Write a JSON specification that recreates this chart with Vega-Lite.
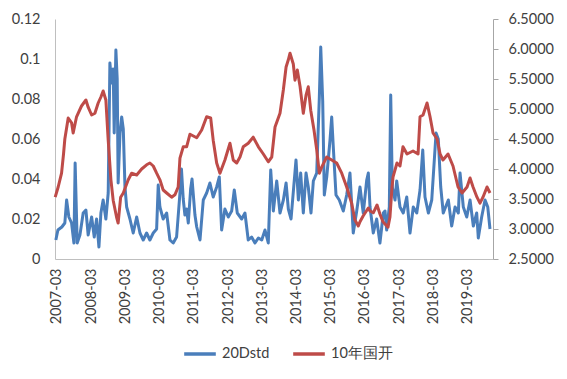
{
  "$schema": "https://vega.github.io/schema/vega-lite/v6.json",
  "width": 438,
  "height": 240,
  "autosize": "none",
  "padding": {"left": 55, "top": 19, "right": 74, "bottom": 120},
  "background": "white",
  "config": {
    "font": "Lato",
    "view": {"stroke": null},
    "axis": {"grid": false, "labelFont": "Lato", "labelFontSize": 14.5, "labelColor": "#404040", "domainColor": "#A6A6A6", "tickColor": "#A6A6A6", "title": null},
    "legend": {"labelFont": "Lato", "labelFontSize": 14.5, "labelColor": "#404040"}
  },
  "data": {"values": [
    {"date":"2007-02-17","series":"20Dstd","value":0.0095},
    {"date":"2007-03-11","series":"20Dstd","value":0.0145},
    {"date":"2007-04-22","series":"20Dstd","value":0.016},
    {"date":"2007-05-24","series":"20Dstd","value":0.018},
    {"date":"2007-06-12","series":"20Dstd","value":0.0295},
    {"date":"2007-07-06","series":"20Dstd","value":0.021},
    {"date":"2007-08-04","series":"20Dstd","value":0.018},
    {"date":"2007-08-29","series":"20Dstd","value":0.008},
    {"date":"2007-09-11","series":"20Dstd","value":0.048},
    {"date":"2007-10-03","series":"20Dstd","value":0.008},
    {"date":"2007-11-01","series":"20Dstd","value":0.012},
    {"date":"2007-12-06","series":"20Dstd","value":0.023},
    {"date":"2008-01-04","series":"20Dstd","value":0.0245},
    {"date":"2008-01-28","series":"20Dstd","value":0.012},
    {"date":"2008-03-05","series":"20Dstd","value":0.021},
    {"date":"2008-04-02","series":"20Dstd","value":0.011},
    {"date":"2008-04-27","series":"20Dstd","value":0.020},
    {"date":"2008-05-22","series":"20Dstd","value":0.006},
    {"date":"2008-06-12","series":"20Dstd","value":0.023},
    {"date":"2008-07-06","series":"20Dstd","value":0.0295},
    {"date":"2008-08-04","series":"20Dstd","value":0.020},
    {"date":"2008-08-29","series":"20Dstd","value":0.033},
    {"date":"2008-09-16","series":"20Dstd","value":0.098},
    {"date":"2008-10-04","series":"20Dstd","value":0.088},
    {"date":"2008-10-21","series":"20Dstd","value":0.095},
    {"date":"2008-11-01","series":"20Dstd","value":0.063},
    {"date":"2008-11-19","series":"20Dstd","value":0.1045},
    {"date":"2008-12-03","series":"20Dstd","value":0.090},
    {"date":"2008-12-13","series":"20Dstd","value":0.038},
    {"date":"2009-01-02","series":"20Dstd","value":0.063},
    {"date":"2009-01-20","series":"20Dstd","value":0.071},
    {"date":"2009-02-06","series":"20Dstd","value":0.065},
    {"date":"2009-02-24","series":"20Dstd","value":0.036},
    {"date":"2009-03-14","series":"20Dstd","value":0.026},
    {"date":"2009-04-18","series":"20Dstd","value":0.020},
    {"date":"2009-05-23","series":"20Dstd","value":0.013},
    {"date":"2009-06-29","series":"20Dstd","value":0.021},
    {"date":"2009-08-03","series":"20Dstd","value":0.013},
    {"date":"2009-09-07","series":"20Dstd","value":0.0095},
    {"date":"2009-10-13","series":"20Dstd","value":0.013},
    {"date":"2009-11-17","series":"20Dstd","value":0.0095},
    {"date":"2009-12-23","series":"20Dstd","value":0.013},
    {"date":"2010-01-28","series":"20Dstd","value":0.015},
    {"date":"2010-02-14","series":"20Dstd","value":0.037},
    {"date":"2010-03-04","series":"20Dstd","value":0.026},
    {"date":"2010-04-08","series":"20Dstd","value":0.020},
    {"date":"2010-05-15","series":"20Dstd","value":0.023},
    {"date":"2010-06-19","series":"20Dstd","value":0.0095},
    {"date":"2010-07-24","series":"20Dstd","value":0.008},
    {"date":"2010-08-29","series":"20Dstd","value":0.011},
    {"date":"2010-10-04","series":"20Dstd","value":0.033},
    {"date":"2010-10-20","series":"20Dstd","value":0.045},
    {"date":"2010-11-08","series":"20Dstd","value":0.030},
    {"date":"2010-11-26","series":"20Dstd","value":0.022},
    {"date":"2010-12-14","series":"20Dstd","value":0.025},
    {"date":"2011-01-01","series":"20Dstd","value":0.018},
    {"date":"2011-01-26","series":"20Dstd","value":0.035},
    {"date":"2011-02-10","series":"20Dstd","value":0.040},
    {"date":"2011-03-13","series":"20Dstd","value":0.022},
    {"date":"2011-04-01","series":"20Dstd","value":0.016},
    {"date":"2011-05-06","series":"20Dstd","value":0.0095},
    {"date":"2011-06-10","series":"20Dstd","value":0.0295},
    {"date":"2011-07-16","series":"20Dstd","value":0.033},
    {"date":"2011-08-20","series":"20Dstd","value":0.038},
    {"date":"2011-09-24","series":"20Dstd","value":0.031},
    {"date":"2011-10-31","series":"20Dstd","value":0.036},
    {"date":"2011-11-28","series":"20Dstd","value":0.041},
    {"date":"2011-12-23","series":"20Dstd","value":0.0145},
    {"date":"2012-01-27","series":"20Dstd","value":0.025},
    {"date":"2012-03-03","series":"20Dstd","value":0.021},
    {"date":"2012-04-08","series":"20Dstd","value":0.024},
    {"date":"2012-05-06","series":"20Dstd","value":0.0345},
    {"date":"2012-06-07","series":"20Dstd","value":0.023},
    {"date":"2012-07-24","series":"20Dstd","value":0.020},
    {"date":"2012-08-28","series":"20Dstd","value":0.023},
    {"date":"2012-10-02","series":"20Dstd","value":0.0095},
    {"date":"2012-11-07","series":"20Dstd","value":0.011},
    {"date":"2012-12-13","series":"20Dstd","value":0.008},
    {"date":"2013-01-18","series":"20Dstd","value":0.0105},
    {"date":"2013-02-23","series":"20Dstd","value":0.0095},
    {"date":"2013-03-30","series":"20Dstd","value":0.0145},
    {"date":"2013-05-04","series":"20Dstd","value":0.008},
    {"date":"2013-05-30","series":"20Dstd","value":0.0445},
    {"date":"2013-06-27","series":"20Dstd","value":0.024},
    {"date":"2013-08-02","series":"20Dstd","value":0.039},
    {"date":"2013-09-06","series":"20Dstd","value":0.023},
    {"date":"2013-10-12","series":"20Dstd","value":0.0295},
    {"date":"2013-11-10","series":"20Dstd","value":0.038},
    {"date":"2013-12-04","series":"20Dstd","value":0.025},
    {"date":"2014-01-02","series":"20Dstd","value":0.020},
    {"date":"2014-02-03","series":"20Dstd","value":0.038},
    {"date":"2014-02-24","series":"20Dstd","value":0.0495},
    {"date":"2014-03-21","series":"20Dstd","value":0.0295},
    {"date":"2014-04-15","series":"20Dstd","value":0.043},
    {"date":"2014-05-13","series":"20Dstd","value":0.023},
    {"date":"2014-06-11","series":"20Dstd","value":0.043},
    {"date":"2014-07-05","series":"20Dstd","value":0.036},
    {"date":"2014-08-03","series":"20Dstd","value":0.023},
    {"date":"2014-08-28","series":"20Dstd","value":0.039},
    {"date":"2014-10-03","series":"20Dstd","value":0.043},
    {"date":"2014-10-31","series":"20Dstd","value":0.081},
    {"date":"2014-11-15","series":"20Dstd","value":0.106},
    {"date":"2014-12-06","series":"20Dstd","value":0.079},
    {"date":"2014-12-23","series":"20Dstd","value":0.032},
    {"date":"2015-01-18","series":"20Dstd","value":0.041},
    {"date":"2015-02-22","series":"20Dstd","value":0.0595},
    {"date":"2015-03-12","series":"20Dstd","value":0.071},
    {"date":"2015-03-29","series":"20Dstd","value":0.056},
    {"date":"2015-04-27","series":"20Dstd","value":0.032},
    {"date":"2015-06-01","series":"20Dstd","value":0.0295},
    {"date":"2015-07-14","series":"20Dstd","value":0.024},
    {"date":"2015-08-19","series":"20Dstd","value":0.032},
    {"date":"2015-09-23","series":"20Dstd","value":0.043},
    {"date":"2015-10-28","series":"20Dstd","value":0.013},
    {"date":"2015-12-04","series":"20Dstd","value":0.024},
    {"date":"2016-01-08","series":"20Dstd","value":0.036},
    {"date":"2016-02-12","series":"20Dstd","value":0.023},
    {"date":"2016-03-20","series":"20Dstd","value":0.0395},
    {"date":"2016-04-06","series":"20Dstd","value":0.043},
    {"date":"2016-04-24","series":"20Dstd","value":0.026},
    {"date":"2016-05-29","series":"20Dstd","value":0.013},
    {"date":"2016-07-04","series":"20Dstd","value":0.020},
    {"date":"2016-08-08","series":"20Dstd","value":0.008},
    {"date":"2016-09-13","series":"20Dstd","value":0.023},
    {"date":"2016-10-01","series":"20Dstd","value":0.024},
    {"date":"2016-10-19","series":"20Dstd","value":0.0145},
    {"date":"2016-11-16","series":"20Dstd","value":0.026},
    {"date":"2016-12-01","series":"20Dstd","value":0.082},
    {"date":"2016-12-18","series":"20Dstd","value":0.036},
    {"date":"2017-01-16","series":"20Dstd","value":0.0295},
    {"date":"2017-02-03","series":"20Dstd","value":0.039},
    {"date":"2017-03-10","series":"20Dstd","value":0.026},
    {"date":"2017-04-14","series":"20Dstd","value":0.023},
    {"date":"2017-05-21","series":"20Dstd","value":0.031},
    {"date":"2017-06-25","series":"20Dstd","value":0.013},
    {"date":"2017-07-30","series":"20Dstd","value":0.026},
    {"date":"2017-09-05","series":"20Dstd","value":0.023},
    {"date":"2017-10-10","series":"20Dstd","value":0.0345},
    {"date":"2017-11-08","series":"20Dstd","value":0.0545},
    {"date":"2017-12-02","series":"20Dstd","value":0.031},
    {"date":"2018-01-07","series":"20Dstd","value":0.023},
    {"date":"2018-02-12","series":"20Dstd","value":0.0295},
    {"date":"2018-03-30","series":"20Dstd","value":0.063},
    {"date":"2018-04-23","series":"20Dstd","value":0.060},
    {"date":"2018-05-19","series":"20Dstd","value":0.036},
    {"date":"2018-06-15","series":"20Dstd","value":0.023},
    {"date":"2018-08-08","series":"20Dstd","value":0.0295},
    {"date":"2018-09-13","series":"20Dstd","value":0.0165},
    {"date":"2018-10-19","series":"20Dstd","value":0.026},
    {"date":"2018-11-23","series":"20Dstd","value":0.023},
    {"date":"2018-12-11","series":"20Dstd","value":0.043},
    {"date":"2019-01-15","series":"20Dstd","value":0.026},
    {"date":"2019-02-21","series":"20Dstd","value":0.021},
    {"date":"2019-03-28","series":"20Dstd","value":0.0295},
    {"date":"2019-05-02","series":"20Dstd","value":0.0165},
    {"date":"2019-06-07","series":"20Dstd","value":0.023},
    {"date":"2019-06-24","series":"20Dstd","value":0.0105},
    {"date":"2019-07-30","series":"20Dstd","value":0.021},
    {"date":"2019-09-04","series":"20Dstd","value":0.0295},
    {"date":"2019-10-03","series":"20Dstd","value":0.026},
    {"date":"2019-10-27","series":"20Dstd","value":0.015},

    {"date":"2007-02-10","series":"10年国开","value":3.53},
    {"date":"2007-03-14","series":"10年国开","value":3.70},
    {"date":"2007-04-19","series":"10年国开","value":3.93},
    {"date":"2007-05-10","series":"10年国开","value":4.25},
    {"date":"2007-05-24","series":"10年国开","value":4.50},
    {"date":"2007-06-29","series":"10年国开","value":4.85},
    {"date":"2007-08-04","series":"10年国开","value":4.77},
    {"date":"2007-08-21","series":"10年国开","value":4.60},
    {"date":"2007-09-26","series":"10年国开","value":4.87},
    {"date":"2007-11-18","series":"10年国开","value":5.05},
    {"date":"2008-01-04","series":"10年国开","value":5.15},
    {"date":"2008-01-28","series":"10年国开","value":5.03},
    {"date":"2008-03-05","series":"10年国开","value":4.90},
    {"date":"2008-04-09","series":"10年国开","value":4.93},
    {"date":"2008-05-14","series":"10年国开","value":5.10},
    {"date":"2008-06-12","series":"10年国开","value":5.20},
    {"date":"2008-07-06","series":"10年国开","value":5.30},
    {"date":"2008-08-04","series":"10年国开","value":5.15},
    {"date":"2008-08-29","series":"10年国开","value":4.48},
    {"date":"2008-09-27","series":"10年国开","value":3.82},
    {"date":"2008-10-21","series":"10年国开","value":3.48},
    {"date":"2008-11-26","series":"10年国开","value":3.20},
    {"date":"2008-12-13","series":"10年国开","value":3.10},
    {"date":"2009-01-09","series":"10年国开","value":3.53},
    {"date":"2009-02-06","series":"10年国开","value":3.60},
    {"date":"2009-03-31","series":"10年国开","value":3.82},
    {"date":"2009-05-06","series":"10年国开","value":3.93},
    {"date":"2009-06-29","series":"10年国开","value":3.90},
    {"date":"2009-08-21","series":"10年国开","value":4.00},
    {"date":"2009-10-13","series":"10年国开","value":4.07},
    {"date":"2009-11-17","series":"10年国开","value":4.10},
    {"date":"2009-12-23","series":"10年国开","value":4.05},
    {"date":"2010-01-28","series":"10年国开","value":3.93},
    {"date":"2010-03-04","series":"10年国开","value":3.82},
    {"date":"2010-04-08","series":"10年国开","value":3.65},
    {"date":"2010-05-15","series":"10年国开","value":3.60},
    {"date":"2010-07-07","series":"10年国开","value":3.53},
    {"date":"2010-08-11","series":"10年国开","value":3.57},
    {"date":"2010-09-15","series":"10年国开","value":3.70},
    {"date":"2010-10-04","series":"10年国开","value":4.18},
    {"date":"2010-11-08","series":"10年国开","value":4.37},
    {"date":"2010-12-14","series":"10年国开","value":4.37},
    {"date":"2011-01-19","series":"10年国开","value":4.58},
    {"date":"2011-04-01","series":"10年国开","value":4.52},
    {"date":"2011-05-24","series":"10年国开","value":4.65},
    {"date":"2011-07-16","series":"10年国开","value":4.87},
    {"date":"2011-08-28","series":"10年国开","value":4.85},
    {"date":"2011-09-24","series":"10年国开","value":4.48},
    {"date":"2011-10-31","series":"10年国开","value":4.10},
    {"date":"2011-12-05","series":"10年国开","value":3.93},
    {"date":"2012-01-27","series":"10年国开","value":4.15},
    {"date":"2012-03-21","series":"10年国开","value":4.43},
    {"date":"2012-04-25","series":"10年国开","value":4.15},
    {"date":"2012-06-01","series":"10年国开","value":4.10},
    {"date":"2012-07-06","series":"10年国开","value":4.20},
    {"date":"2012-08-10","series":"10年国开","value":4.37},
    {"date":"2012-10-02","series":"10年国开","value":4.43},
    {"date":"2012-11-24","series":"10年国开","value":4.53},
    {"date":"2013-01-18","series":"10年国开","value":4.37},
    {"date":"2013-03-12","series":"10年国开","value":4.25},
    {"date":"2013-05-04","series":"10年国开","value":4.12},
    {"date":"2013-06-10","series":"10年国开","value":4.20},
    {"date":"2013-07-15","series":"10年国开","value":4.70},
    {"date":"2013-09-06","series":"10年国开","value":4.93},
    {"date":"2013-10-12","series":"10年国开","value":5.32},
    {"date":"2013-11-10","series":"10年国开","value":5.70},
    {"date":"2013-12-04","series":"10年国开","value":5.82},
    {"date":"2013-12-22","series":"10年国开","value":5.93},
    {"date":"2014-01-26","series":"10年国开","value":5.75},
    {"date":"2014-02-13","series":"10年国开","value":5.48},
    {"date":"2014-03-10","series":"10年国开","value":5.65},
    {"date":"2014-04-08","series":"10年国开","value":5.38},
    {"date":"2014-05-13","series":"10年国开","value":4.93},
    {"date":"2014-06-11","series":"10年国开","value":5.23},
    {"date":"2014-07-05","series":"10年国开","value":5.37},
    {"date":"2014-07-31","series":"10年国开","value":4.98},
    {"date":"2014-09-04","series":"10年国开","value":4.65},
    {"date":"2014-10-03","series":"10年国开","value":4.32},
    {"date":"2014-10-31","series":"10年国开","value":3.93},
    {"date":"2014-11-25","series":"10年国开","value":4.03},
    {"date":"2015-01-18","series":"10年国开","value":4.20},
    {"date":"2015-03-12","series":"10年国开","value":4.15},
    {"date":"2015-05-04","series":"10年国开","value":4.10},
    {"date":"2015-06-27","series":"10年国开","value":3.93},
    {"date":"2015-08-19","series":"10年国开","value":3.70},
    {"date":"2015-10-11","series":"10年国开","value":3.43},
    {"date":"2015-11-15","series":"10年国开","value":3.15},
    {"date":"2015-12-21","series":"10年国开","value":3.05},
    {"date":"2016-01-08","series":"10年国开","value":3.12},
    {"date":"2016-02-12","series":"10年国开","value":3.22},
    {"date":"2016-04-06","series":"10年国开","value":3.35},
    {"date":"2016-04-24","series":"10年国开","value":3.30},
    {"date":"2016-05-29","series":"10年国开","value":3.27},
    {"date":"2016-07-08","series":"10年国开","value":3.40},
    {"date":"2016-08-08","series":"10年国开","value":3.25},
    {"date":"2016-09-09","series":"10年国开","value":3.12},
    {"date":"2016-11-02","series":"10年国开","value":3.03},
    {"date":"2016-11-23","series":"10年国开","value":3.20},
    {"date":"2016-12-15","series":"10年国开","value":3.70},
    {"date":"2016-12-26","series":"10年国开","value":3.87},
    {"date":"2017-02-06","series":"10年国开","value":4.10},
    {"date":"2017-03-10","series":"10年国开","value":4.05},
    {"date":"2017-04-11","series":"10年国开","value":4.37},
    {"date":"2017-05-24","series":"10年国开","value":4.25},
    {"date":"2017-07-27","series":"10年国开","value":4.30},
    {"date":"2017-09-19","series":"10年国开","value":4.25},
    {"date":"2017-10-10","series":"10年国开","value":4.87},
    {"date":"2017-11-11","series":"10年国开","value":4.90},
    {"date":"2017-12-24","series":"10年国开","value":5.10},
    {"date":"2018-01-25","series":"10年国开","value":4.87},
    {"date":"2018-02-26","series":"10年国开","value":4.60},
    {"date":"2018-04-10","series":"10年国开","value":4.50},
    {"date":"2018-05-12","series":"10年国开","value":4.25},
    {"date":"2018-06-12","series":"10年国开","value":4.15},
    {"date":"2018-08-05","series":"10年国开","value":4.25},
    {"date":"2018-09-27","series":"10年国开","value":4.05},
    {"date":"2018-11-20","series":"10年国开","value":3.70},
    {"date":"2019-01-02","series":"10年国开","value":3.60},
    {"date":"2019-02-24","series":"10年国开","value":3.70},
    {"date":"2019-03-28","series":"10年国开","value":3.85},
    {"date":"2019-04-29","series":"10年国开","value":3.70},
    {"date":"2019-06-10","series":"10年国开","value":3.53},
    {"date":"2019-07-12","series":"10年国开","value":3.43},
    {"date":"2019-08-13","series":"10年国开","value":3.53},
    {"date":"2019-09-25","series":"10年国开","value":3.70},
    {"date":"2019-10-27","series":"10年国开","value":3.60}
  ]},
  "encoding": {
    "x": {
      "field": "date", "type": "temporal",
      "scale": {"type": "utc", "domain": [{"year": 2007, "month": 2, "date": 8, "utc": true}, {"year": 2019, "month": 11, "date": 28, "utc": true}]},
      "axis": {
        "values": [
          {"year": 2007, "month": 3, "date": 1, "utc": true},
          {"year": 2008, "month": 3, "date": 1, "utc": true},
          {"year": 2009, "month": 3, "date": 1, "utc": true},
          {"year": 2010, "month": 3, "date": 1, "utc": true},
          {"year": 2011, "month": 3, "date": 1, "utc": true},
          {"year": 2012, "month": 3, "date": 1, "utc": true},
          {"year": 2013, "month": 3, "date": 1, "utc": true},
          {"year": 2014, "month": 3, "date": 1, "utc": true},
          {"year": 2015, "month": 3, "date": 1, "utc": true},
          {"year": 2016, "month": 3, "date": 1, "utc": true},
          {"year": 2017, "month": 3, "date": 1, "utc": true},
          {"year": 2018, "month": 3, "date": 1, "utc": true},
          {"year": 2019, "month": 3, "date": 1, "utc": true}
        ],
        "labelExpr": "utcFormat(datum.value, '%Y-%m')", "labelAngle": -90, "ticks": false, "labelPadding": 9,
        "labelOverlap": false, "labelFlush": false, "domainColor": "#BFBFBF"
      }
    },
    "color": {
      "field": "series", "type": "nominal",
      "scale": {"domain": ["20Dstd", "10年国开"], "range": ["#4A7EBB", "#BE4B48"]},
      "legend": {"orient": "none", "legendX": 127, "legendY": 317, "direction": "horizontal", "title": null,
        "symbolType": "stroke", "symbolStrokeWidth": 3.5, "symbolSize": 1000, "labelOffset": 4, "columnPadding": 16, "padding": 0}
    }
  },
  "layer": [
    {
      "transform": [{"filter": "datum.series === '20Dstd'"}],
      "mark": {"type": "line", "strokeWidth": 3, "strokeJoin": "round"},
      "encoding": {
        "y": {"field": "value", "type": "quantitative",
          "scale": {"domain": [0, 0.12], "nice": false, "zero": false},
          "axis": {"orient": "left", "values": [0, 0.02, 0.04, 0.06, 0.08, 0.1, 0.12], "format": ".2~g", "ticks": false, "labelPadding": 15, "domainColor": "#BFBFBF"}}
      }
    },
    {
      "transform": [{"filter": "datum.series === '10年国开'"}],
      "mark": {"type": "line", "strokeWidth": 3, "strokeJoin": "round"},
      "encoding": {
        "y": {"field": "value", "type": "quantitative",
          "scale": {"domain": [2.5, 6.5], "nice": false, "zero": false},
          "axis": {"orient": "right", "values": [2.5, 3, 3.5, 4, 4.5, 5, 5.5, 6, 6.5], "format": ".4f", "ticks": true, "tickSize": 5, "labelPadding": 10, "domainColor": "#A6A6A6"}}
      }
    }
  ],
  "resolve": {"scale": {"y": "independent"}}
}
